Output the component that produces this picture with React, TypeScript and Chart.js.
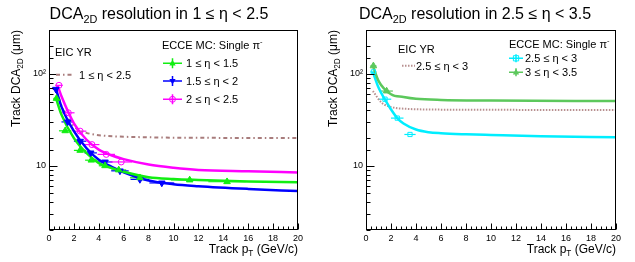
import React, { useEffect, useRef } from "react";
import { Chart, registerables } from "chart.js";
Chart.register(...registerables);

const FONT = "'Liberation Sans', Arial, Helvetica, sans-serif";

// ---------- Left panel (1 <= eta < 2.5) ----------
const l1X = [0.6, 1.3, 2.5, 3.4, 4.5, 5.6, 7.3, 11.3, 14.3];
const l1Y = [54, 24, 14.7, 11.5, 10, 9, 7.4, 7.0, 6.7];
const l1XErr = [0.25, 0.5, 0.5, 0.5, 0.5, 0.6, 0.8, 1.5, 1.5];
const l2X = [0.55, 1.5, 2.5, 3.35, 4.5, 5.7, 7.3, 9.06];
const l2Y = [68, 30, 18.5, 13.8, 11, 8.8, 7.1, 6.5];
const l2XErr = [0.25, 0.5, 0.5, 0.5, 0.6, 0.7, 0.75, 1.0];
const l3X = [0.8, 1.55, 2.5, 3.45, 4.6, 5.8];
const l3Y = [75, 37.7, 23.8, 17, 13.3, 11];
const l3XErr = [0.3, 0.5, 0.5, 0.6, 0.7, 0.87];

const fit1X = [0.55, 1, 2, 3, 4, 5, 6, 8, 10, 12, 16, 20];
const fit1Y = [55, 36, 20, 13.8, 10.7, 9.5, 8.6, 7.5, 7.17, 7.0, 6.75, 6.6];
const fit2X = [0.55, 1, 2, 3, 4, 5, 6, 8, 10, 12, 16, 20];
const fit2Y = [69, 44, 23.8, 15.6, 11.6, 9.8, 8.5, 6.9, 6.3, 6.0, 5.6, 5.3];
const fit3X = [0.7, 1, 2, 3, 4, 5, 6, 8, 10, 12, 16, 20];
const fit3Y = [74, 57, 29, 19.3, 15, 13, 11.8, 10.3, 9.5, 9.0, 8.7, 8.45];

const yrLX = [0.8, 1, 1.3, 2, 2.5, 3, 4, 6, 8, 10, 14, 20];
const yrLY = [55, 45, 37, 27, 24, 22.8, 21.5, 20.7, 20.4, 20.2, 20.1, 20];

// ---------- Right panel (2.5 <= eta < 3.5) ----------
const r1X = [0.59, 1.52, 2.5, 3.52];
const r1Y = [105, 53, 33, 21.9];
const r1XErr = [0.25, 0.5, 0.5, 0.45];
const r2X = [0.59, 1.65];
const r2Y = [122, 65];
const r2XErr = [0.25, 0.5];

const fitR1X = [0.55, 1, 1.5, 2, 2.5, 3, 4, 5, 6, 8, 10, 14, 20];
const fitR1Y = [105, 71, 53, 41, 33, 28.8, 24.8, 23.2, 22.6, 22, 21.6, 20.9, 20.4];
const fitR2X = [0.55, 1, 2, 3, 4, 6, 10, 20];
const fitR2Y = [122, 84, 60, 56, 53.5, 52, 51.3, 50.6];

const yrRX = [0.55, 1.25, 2.2, 3, 4, 6, 10, 20];
const yrRY = [65, 48.6, 42.9, 41.8, 41.2, 40.8, 40.6, 40.5];

// axis
const X_MIN = 0;
const X_MAX = 20;
const X_STEP = 0.4;
const X_LABEL_EVERY = 2;
const Y_MIN = 2;
const Y_MAX = 300;

const C_GREEN = "#12ee12";
const C_BLUE = "#0000ff";
const C_MAGENTA = "#ff00ff";
const C_YR = "#a87c7c";
const C_CYAN = "#00eeff";
const C_GREEN2 = "#5cc85c";
const C_YR2 = "#b89090";

type Part = { t: string; s?: "sub" | "sup" };

function partFont(p: Part, size: number) {
  return `${p.s ? size * 0.68 : size}px ${FONT}`;
}
function drawRich(ctx: CanvasRenderingContext2D, parts: Part[], x: number, y: number, size: number, align: "left" | "center" | "right") {
  ctx.save();
  ctx.textBaseline = "alphabetic";
  ctx.textAlign = "left";
  let w = 0;
  const ws = parts.map((p) => {
    ctx.font = partFont(p, size);
    const m = ctx.measureText(p.t).width;
    w += m;
    return m;
  });
  let cx = align === "left" ? x : align === "center" ? x - w / 2 : x - w;
  parts.forEach((p, i) => {
    ctx.font = partFont(p, size);
    const dy = p.s === "sub" ? size * 0.28 : p.s === "sup" ? -size * 0.42 : 0;
    ctx.fillText(p.t, cx, y + dy);
    cx += ws[i];
  });
  ctx.restore();
}

function drawMarker(ctx: CanvasRenderingContext2D, style: string, x: number, y: number, r: number, color: string) {
  ctx.save();
  ctx.strokeStyle = color;
  ctx.fillStyle = color;
  ctx.lineWidth = 1;
  ctx.beginPath();
  if (style === "triUp") {
    ctx.moveTo(x, y - r);
    ctx.lineTo(x + r * 0.9, y + r * 0.6);
    ctx.lineTo(x - r * 0.9, y + r * 0.6);
    ctx.closePath();
    ctx.fill();
  } else if (style === "triDown") {
    ctx.moveTo(x, y + r);
    ctx.lineTo(x + r * 0.9, y - r * 0.6);
    ctx.lineTo(x - r * 0.9, y - r * 0.6);
    ctx.closePath();
    ctx.fill();
  } else if (style === "circle") {
    ctx.arc(x, y, r * 0.85, 0, Math.PI * 2);
    ctx.stroke();
  } else if (style === "rect") {
    ctx.rect(x - r * 0.75, y - r * 0.75, r * 1.5, r * 1.5);
    ctx.stroke();
  }
  ctx.restore();
}

function legendEntry(ctx: CanvasRenderingContext2D, x0: number, x1: number, yc: number, vh: number, color: string, style: string, label: Part[], tx: number) {
  ctx.save();
  ctx.strokeStyle = color;
  ctx.lineWidth = 1.5;
  ctx.beginPath();
  ctx.moveTo(x0, yc);
  ctx.lineTo(x1, yc);
  const xm = (x0 + x1) / 2;
  ctx.moveTo(xm, yc - vh);
  ctx.lineTo(xm, yc + vh);
  ctx.stroke();
  ctx.restore();
  drawMarker(ctx, style, xm, yc, 3.5, color);
  ctx.fillStyle = "#000";
  drawRich(ctx, label, tx, yc + 4, 11, "left");
}

function lineSample(ctx: CanvasRenderingContext2D, x0: number, x1: number, y: number, color: string, dash: number[]) {
  ctx.save();
  ctx.strokeStyle = color;
  ctx.lineWidth = 2;
  ctx.setLineDash(dash);
  ctx.beginPath();
  ctx.moveTo(x0, y);
  ctx.lineTo(x1, y);
  ctx.stroke();
  ctx.restore();
}

const isMult = (v: number, m: number) => Math.abs(v / m - Math.round(v / m)) < 1e-6;

const errorBars = {
  id: "errorBars",
  beforeDatasetsDraw(chart: any) {
    const { ctx, chartArea } = chart;
    const xs = chart.scales.x;
    const ys = chart.scales.y;
    ctx.save();
    ctx.beginPath();
    ctx.rect(chartArea.left, chartArea.top, chartArea.right - chartArea.left, chartArea.bottom - chartArea.top);
    ctx.clip();
    chart.data.datasets.forEach((ds: any) => {
      if (!ds.xerr) return;
      ctx.strokeStyle = ds.borderColor;
      ctx.lineWidth = 1.2;
      ds.data.forEach((p: any, j: number) => {
        const py = ys.getPixelForValue(p.y);
        ctx.beginPath();
        ctx.moveTo(xs.getPixelForValue(p.x - ds.xerr[j]), py);
        ctx.lineTo(xs.getPixelForValue(p.x + ds.xerr[j]), py);
        ctx.stroke();
      });
    });
    ctx.restore();
  },
};

function makeFramePlugin(title: Part[], titleX: number, legend: (c: CanvasRenderingContext2D) => void) {
  return {
    id: "frameAndText",
    afterDraw(chart: any) {
      const { ctx, chartArea } = chart;
      const xs = chart.scales.x;
      const ys = chart.scales.y;
      ctx.save();
      ctx.strokeStyle = "#000";
      ctx.lineWidth = 1;
      const L = Math.round(chartArea.left) + 0.5;
      const R = Math.round(chartArea.right) - 0.5;
      const T = Math.round(chartArea.top) + 0.5;
      const B = Math.round(chartArea.bottom) - 0.5;
      ctx.strokeRect(L, T, R - L, B - T);
      ctx.beginPath();
      xs.ticks.forEach((t: any) => {
        const px = Math.round(xs.getPixelForValue(t.value)) + 0.5;
        const len = isMult(t.value, X_LABEL_EVERY) ? 6 : 3;
        ctx.moveTo(px, B);
        ctx.lineTo(px, B - len);
      });
      ys.ticks.forEach((t: any) => {
        const py = Math.round(ys.getPixelForValue(t.value)) + 0.5;
        const major = t.value === 10 || t.value === 100;
        const len = major ? 8 : 4;
        ctx.moveTo(L, py);
        ctx.lineTo(L + len, py);
      });
      ctx.stroke();
      ctx.restore();

      ctx.fillStyle = "#000";
      drawRich(ctx, title, titleX, 18.5, 16, "center");
      drawRich(ctx, [{ t: "Track p" }, { t: "T", s: "sub" }, { t: " (GeV/c)" }], chartArea.right, 253, 12, "right");
      ctx.save();
      ctx.translate(19.5, chartArea.top);
      ctx.rotate(-Math.PI / 2);
      ctx.fillStyle = "#000";
      drawRich(ctx, [{ t: "Track DCA" }, { t: "2D", s: "sub" }, { t: " (μm)" }], 0, 0, 12, "right");
      ctx.restore();
      legend(ctx);
    },
  };
}

const pts = (xs: number[], ys: number[]) => xs.map((x, i) => ({ x, y: ys[i] }));

function curve(xs: number[], ys: number[], color: string, width: number, dash: number[] = [], order = 1) {
  return {
    data: pts(xs, ys),
    borderColor: color,
    borderWidth: width,
    borderDash: dash,
    pointRadius: 0,
    fill: false,
    cubicInterpolationMode: "monotone",
    order,
  };
}

function points(xs: number[], ys: number[], xerr: number[], color: string, style: string, rotation: number, filled: boolean) {
  return {
    data: pts(xs, ys),
    showLine: false,
    xerr,
    pointStyle: style,
    pointRotation: rotation,
    pointRadius: style === "triangle" ? 3.8 : 3,
    pointBorderWidth: 1,
    pointBorderColor: color,
    pointBackgroundColor: filled ? color : "rgba(0,0,0,0)",
    borderColor: color,
    order: 0,
  };
}

const leftDatasets = () => [
  curve(yrLX, yrLY, C_YR, 2, [4, 3, 1.5, 3], 2),
  curve(fit1X, fit1Y, C_GREEN, 2.5),
  curve(fit3X, fit3Y, C_MAGENTA, 2.5),
  curve(fit2X, fit2Y, C_BLUE, 2.5),
  points(l1X, l1Y, l1XErr, C_GREEN, "triangle", 0, true),
  points(l2X, l2Y, l2XErr, C_BLUE, "triangle", 180, true),
  points(l3X, l3Y, l3XErr, C_MAGENTA, "circle", 0, false),
];

const rightDatasets = () => [
  curve(yrRX, yrRY, C_YR2, 2, [1.5, 1.5], 2),
  curve(fitR2X, fitR2Y, C_GREEN2, 2.5),
  curve(fitR1X, fitR1Y, C_CYAN, 2.5),
  points(r1X, r1Y, r1XErr, C_CYAN, "rect", 0, false),
  points(r2X, r2Y, r2XErr, C_GREEN2, "triangle", 0, true),
];

const eccePi: Part[] = [{ t: "ECCE MC: Single π" }, { t: "-", s: "sup" }];

function leftLegend(ctx: CanvasRenderingContext2D) {
  ctx.fillStyle = "#000";
  drawRich(ctx, [{ t: "EIC YR" }], 55, 56.3, 11, "left");
  lineSample(ctx, 56, 72, 74.7, C_YR, [4, 3, 1.5, 3]);
  ctx.fillStyle = "#000";
  drawRich(ctx, [{ t: "1 ≤ η < 2.5" }], 79, 78.5, 11, "left");
  drawRich(ctx, eccePi, 162, 48.5, 11, "left");
  legendEntry(ctx, 163, 182, 63.3, 5, C_GREEN, "triUp", [{ t: "1 ≤ η < 1.5" }], 186);
  legendEntry(ctx, 163, 182, 81, 5, C_BLUE, "triDown", [{ t: "1.5 ≤ η < 2" }], 186);
  legendEntry(ctx, 163, 182, 99.3, 5, C_MAGENTA, "circle", [{ t: "2 ≤ η < 2.5" }], 186);
}

function rightLegend(ctx: CanvasRenderingContext2D) {
  ctx.fillStyle = "#000";
  drawRich(ctx, [{ t: "EIC YR" }], 81, 53, 11, "left");
  lineSample(ctx, 85, 98, 65.7, C_YR2, [1.5, 1.5]);
  ctx.fillStyle = "#000";
  drawRich(ctx, [{ t: "2.5 ≤ η < 3" }], 99, 69.5, 11, "left");
  drawRich(ctx, eccePi, 192, 47.5, 11, "left");
  legendEntry(ctx, 192, 206, 58.3, 4, C_CYAN, "rect", [{ t: "2.5 ≤ η < 3" }], 208);
  legendEntry(ctx, 192, 206, 72.3, 4, C_GREEN2, "triUp", [{ t: "3 ≤ η < 3.5" }], 208);
}

function buildConfig(datasets: any[], title: Part[], titleX: number, legend: (c: CanvasRenderingContext2D) => void, rightPad: number): any {
  return {
    type: "line",
    data: { datasets },
    plugins: [errorBars, makeFramePlugin(title, titleX, legend)],
    options: {
      responsive: false,
      animation: false,
      devicePixelRatio: 1,
      events: [],
      layout: { padding: { left: 0, top: 30, right: rightPad, bottom: 0 } },
      plugins: {
        legend: { display: false },
        tooltip: { enabled: false },
      },
      scales: {
        x: {
          type: "linear",
          min: X_MIN,
          max: X_MAX,
          afterFit: (s: any) => {
            s.height = 32;
          },
          grid: { display: false, drawTicks: false },
          border: { display: false },
          ticks: {
            stepSize: X_STEP,
            autoSkip: false,
            maxRotation: 0,
            padding: 3,
            color: "#000",
            font: { family: FONT, size: 9 },
            callback: (v: number) => (isMult(v, X_LABEL_EVERY) ? String(Math.round(v)) : ""),
          },
        },
        y: {
          type: "logarithmic",
          min: Y_MIN,
          max: Y_MAX,
          afterFit: (s: any) => {
            s.width = 49;
          },
          grid: { display: false, drawTicks: false },
          border: { display: false },
          ticks: {
            autoSkip: false,
            padding: 3,
            color: "#000",
            font: { family: FONT, size: 9 },
            callback: (v: number) => (v === 10 ? "10" : v === 100 ? "10²" : ""),
          },
        },
      },
    },
  };
}

function Panel(props: { left: number; width: number; cfg: () => any }) {
  const ref = useRef<HTMLCanvasElement>(null);
  useEffect(() => {
    const chart = new Chart(ref.current as HTMLCanvasElement, props.cfg());
    return () => chart.destroy();
  }, []);
  return (
    <canvas
      ref={ref}
      width={props.width}
      height={262}
      style={{ position: "absolute", left: props.left, top: 0, width: props.width, height: 262 }}
    />
  );
}

export default function App() {
  return (
    <div style={{ position: "absolute", left: 0, top: 0, width: 635, height: 262, background: "#fff" }}>
      <Panel
        left={0}
        width={317}
        cfg={() =>
          buildConfig(leftDatasets(), [{ t: "DCA" }, { t: "2D", s: "sub" }, { t: " resolution in 1 ≤ η < 2.5" }], 159, leftLegend, 19)
        }
      />
      <Panel
        left={317}
        width={318}
        cfg={() =>
          buildConfig(rightDatasets(), [{ t: "DCA" }, { t: "2D", s: "sub" }, { t: " resolution in 2.5 ≤ η < 3.5" }], 158, rightLegend, 19)
        }
      />
    </div>
  );
}
